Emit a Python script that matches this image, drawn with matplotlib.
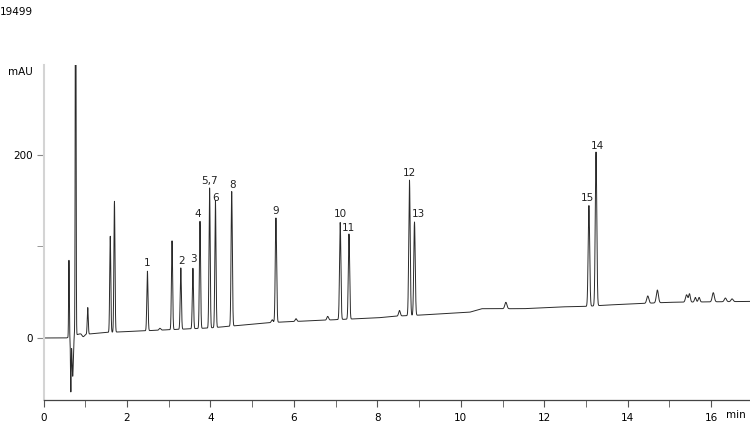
import numpy as np
import matplotlib
matplotlib.use("Agg")
import matplotlib.pyplot as plt

# baseline anchors (min, mAU)
base_t = [0.0, 0.55, 0.9, 1.0, 1.5, 2.0, 2.5, 3.0, 3.5, 4.0, 4.5, 5.0, 5.5, 6.0,
          6.5, 7.0, 7.5, 8.0, 8.5, 9.0, 10.0, 10.2, 10.5, 11.5, 12.4, 13.0,
          13.5, 14.0, 15.0, 16.0, 17.0]
base_v = [0.0, 0.0, 5.0, 4.0, 6.0, 7.0, 8.0, 9.0, 10.0, 11.0, 13.0, 15.0, 17.0, 18.0,
          19.0, 20.0, 21.0, 22.0, 24.0, 25.0, 27.6, 28.0, 32.0, 32.0, 34.0, 34.5,
          36.0, 37.0, 39.0, 39.5, 40.0]

# peak table: retention time (min), height above baseline (mAU), width (min)
peak_rt = [0.61, 0.655, 0.70, 0.77, 0.95, 1.06, 1.60, 1.70, 2.49, 2.79, 3.08, 3.29,
           3.58, 3.75, 3.98, 4.12, 4.51, 5.48, 5.57, 6.05, 6.81, 7.11, 7.32, 8.53,
           8.77, 8.89, 11.08, 13.07, 13.24, 14.48, 14.71, 15.41, 15.48, 15.62,
           15.71, 16.05, 16.34, 16.50]
peak_h = [84, -60, -44, 520, -3, 29, 105, 143, 65, 2, 97, 67,
          66, 117, 153, 139, 147, 3, 114, 3, 4, 106, 93, 6,
          148, 102, 7, 110, 168, 8, 14, 8, 9, 5,
          5, 10, 4, 3]
peak_w = [0.008, 0.008, 0.015, 0.009, 0.03, 0.012, 0.013, 0.013, 0.014, 0.02, 0.014, 0.014,
          0.014, 0.014, 0.014, 0.014, 0.015, 0.02, 0.016, 0.02, 0.02, 0.016, 0.016, 0.02,
          0.017, 0.017, 0.025, 0.018, 0.018, 0.025, 0.025, 0.025, 0.02, 0.02,
          0.02, 0.025, 0.025, 0.025]

# peak labels: text, time, label centre (mAU)
lab_text = ["1", "2", "3", "4", "5,7", "6", "8", "9", "10", "11", "12", "13", "14", "15"]
lab_t = [2.48, 3.30, 3.59, 3.70, 3.97, 4.12, 4.54, 5.57, 7.11, 7.30, 8.76, 8.98, 13.27, 13.03]
lab_y = [82, 83.6, 85.8, 135.5, 171.6, 153, 166.7, 138.8, 135.5, 120.2, 179.8, 135.5, 210, 153]

t = np.arange(0, 17.0, 0.001)
signal = np.interp(t, base_t, base_v)
for rt, h, w in zip(peak_rt, peak_h, peak_w):
    signal += h * np.exp(-0.5 * ((t - rt) / w) ** 2)

fig = plt.figure(figsize=(7.5, 4.23), dpi=100)
ax = fig.add_axes([43.5 / 750, 23 / 423, 706.5 / 750, 335 / 423])
ax.plot(t, signal, color="#2a2a2a", lw=0.7)

ax.set_xlim(0, 16.93)
ax.set_ylim(-67.8, 298.4)

for s in ["top", "right"]:
    ax.spines[s].set_visible(False)
ax.spines["left"].set_color("#d4d4d4")
ax.spines["left"].set_linewidth(1.5)
ax.spines["bottom"].set_color("#444444")
ax.spines["bottom"].set_linewidth(0.9)

ax.set_xticks(np.arange(0, 17, 2))
ax.set_xticks(np.arange(1, 17, 2), minor=True)
ax.set_yticks([0, 200])
ax.set_yticks([100], minor=True)
ax.tick_params(axis="x", which="both", length=5, color="#555555", labelsize=7.5, pad=4)
ax.tick_params(axis="y", which="both", length=5, color="#888888", labelsize=7.5, pad=3)

for txt, x, y in zip(lab_text, lab_t, lab_y):
    ax.text(x, y, txt, ha="center", va="center", fontsize=7.5, color="#222222")

fig.text(0 / 750, 1 - 12 / 423, "19499", fontsize=7.5, va="center", ha="left")
fig.text(8 / 750, 1 - 72 / 423, "mAU", fontsize=7.5, va="center", ha="left")
fig.text(746 / 750, 1 - 415 / 423, "min", fontsize=7.5, va="center", ha="right")

fig.savefig("out.png", dpi=100)
